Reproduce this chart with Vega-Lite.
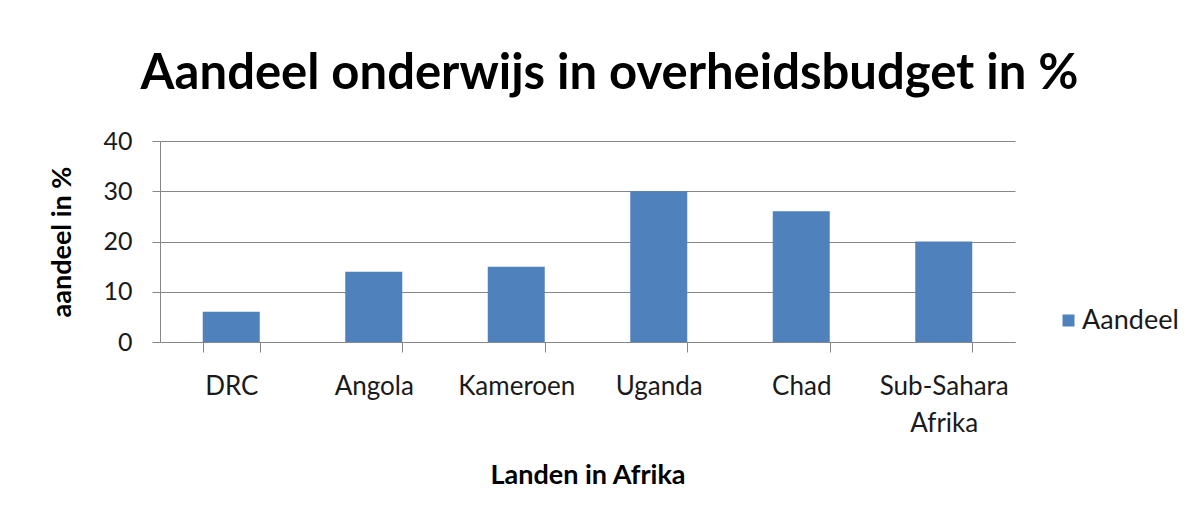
{
  "$schema": "https://vega.github.io/schema/vega-lite/v6.json",
  "width": 855,
  "height": 201,
  "autosize": {"type": "none"},
  "padding": {"left": 160, "top": 141, "right": 183, "bottom": 190},
  "background": "white",
  "title": {
    "text": "Aandeel onderwijs in overheidsbudget in %",
    "font": "Lato",
    "fontSize": 49,
    "fontWeight": "bold",
    "color": "#000000",
    "anchor": "middle",
    "dx": 22,
    "offset": 30
  },
  "data": {
    "values": [
      {"Land": "DRC", "Aandeel": 6, "Serie": "Aandeel"},
      {"Land": "Angola", "Aandeel": 14, "Serie": "Aandeel"},
      {"Land": "Kameroen", "Aandeel": 15, "Serie": "Aandeel"},
      {"Land": "Uganda", "Aandeel": 30, "Serie": "Aandeel"},
      {"Land": "Chad", "Aandeel": 26, "Serie": "Aandeel"},
      {"Land": "Sub-Sahara Afrika", "Aandeel": 20, "Serie": "Aandeel"}
    ]
  },
  "mark": {"type": "bar"},
  "encoding": {
    "x": {
      "field": "Land",
      "type": "nominal",
      "sort": null,
      "scale": {"paddingInner": 0.6, "paddingOuter": 0.3},
      "axis": {
        "title": "Landen in Afrika",
        "titleFont": "Lato",
        "titleFontSize": 27,
        "titleFontWeight": "bold",
        "titleColor": "#000000",
        "titlePadding": 26,
        "labelFont": "Lato",
        "labelFontSize": 26,
        "labelColor": "#1a1a1a",
        "labelAngle": 0,
        "labelPadding": 21,
        "labelLineHeight": 37,
        "labelExpr": "split(datum.label, ' ')",
        "tickBand": "extent",
        "tickSize": 10,
        "tickColor": "#868686",
        "domainColor": "#868686",
        "grid": false
      }
    },
    "y": {
      "field": "Aandeel",
      "type": "quantitative",
      "scale": {"domain": [0, 40], "nice": false},
      "axis": {
        "values": [0, 10, 20, 30, 40],
        "title": "aandeel in %",
        "titleFont": "Lato",
        "titleFontSize": 27,
        "titleFontWeight": "bold",
        "titleColor": "#000000",
        "titlePadding": 26,
        "labelFont": "Lato",
        "labelFontSize": 25,
        "labelColor": "#1a1a1a",
        "labelPadding": 20,
        "tickSize": 8,
        "tickColor": "#868686",
        "domainColor": "#868686",
        "grid": true,
        "gridColor": "#868686"
      }
    },
    "color": {
      "field": "Serie",
      "type": "nominal",
      "scale": {"range": ["#4F81BD"]},
      "legend": {
        "title": null,
        "orient": "none",
        "legendX": 895,
        "legendY": 166,
        "padding": 0,
        "symbolType": "square",
        "symbolSize": 144,
        "symbolStrokeWidth": 0,
        "labelFont": "Lato",
        "labelFontSize": 27,
        "labelColor": "#1a1a1a",
        "labelOffset": 0
      }
    }
  },
  "config": {
    "view": {"stroke": null}
  }
}
